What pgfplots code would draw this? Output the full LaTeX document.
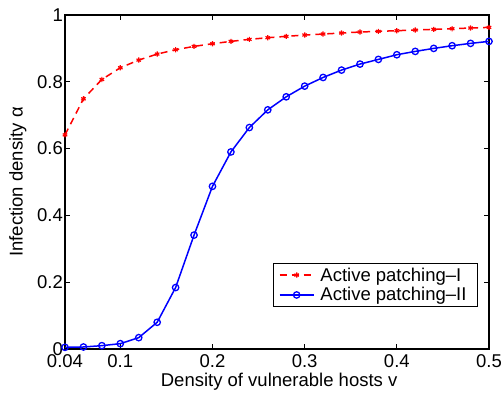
\documentclass[border=0pt]{standalone}
\usepackage{pgfplots}
\pgfplotsset{compat=1.18}
\usepackage{fontspec}
\setmainfont{Liberation Sans}
\begin{document}
\begin{tikzpicture}[font=\fontsize{18.5}{22}\selectfont]
\begin{axis}[
  name=ax,
  scale only axis,
  width=424pt, height=334pt,
  xmin=0.04, xmax=0.5, ymin=0, ymax=1,
  xtick={0.04,0.1,0.2,0.3,0.4,0.5},
  xticklabels={0.04,0.1,0.2,0.3,0.4,0.5},
  ytick={0,0.2,0.4,0.6,0.8,1},
  yticklabels={0,0.2,0.4,0.6,0.8,1},
  /pgf/number format/assume math mode=true,
  tick align=inside,
  major tick length=5pt,
  every tick/.style={black, line width=0.8pt},
  axis line style={line width=1.2pt},
  yticklabel style={inner sep=2pt},
  xticklabel style={inner sep=5pt},
  xlabel={Density of vulnerable hosts v},
  ylabel={Infection density α},
  xlabel style={at={(axis description cs:0.505,-0.099)}, anchor=center},
  ylabel style={at={(axis description cs:-0.111,0.5)}, anchor=center},
  clip=false,
  legend cell align=left,
  legend style={at={(axis cs:0.488,0.126)}, anchor=south east, draw=black, line width=1pt,
    inner xsep=5pt, inner ysep=1pt, row sep=-1pt,
    nodes={inner sep=3pt, inner xsep=6pt}},
  legend image code/.code={\draw[mark repeat=2,mark phase=2] plot coordinates {(0pt,0pt) (17pt,0pt) (34pt,0pt)};},
]
\addplot[red, line width=1.5pt, dash pattern=on 7pt off 5pt, mark=asterisk, mark size=2.6pt,
  mark options={solid, line width=1.2pt}] coordinates {
(0.04,0.641) (0.06,0.749) (0.08,0.807) (0.10,0.842) (0.12,0.865) (0.14,0.883)
(0.16,0.896) (0.18,0.906) (0.20,0.914) (0.22,0.921) (0.24,0.927) (0.26,0.932)
(0.28,0.936) (0.30,0.940) (0.32,0.943) (0.34,0.946) (0.36,0.949) (0.38,0.951)
(0.40,0.953) (0.42,0.955) (0.44,0.957) (0.46,0.959) (0.48,0.961) (0.50,0.963)
};
\addlegendentry{Active patching–I}
\addplot[blue, line width=1.5pt, mark=o, mark size=3.2pt, mark options={solid, line width=1.3pt}] coordinates {
(0.04,0.005) (0.06,0.006) (0.08,0.010) (0.10,0.016) (0.12,0.034) (0.14,0.080)
(0.16,0.184) (0.18,0.341) (0.20,0.487) (0.22,0.590) (0.24,0.663) (0.26,0.716)
(0.28,0.755) (0.30,0.787) (0.32,0.813) (0.34,0.835) (0.36,0.853) (0.38,0.867)
(0.40,0.881) (0.42,0.891) (0.44,0.900) (0.46,0.908) (0.48,0.915) (0.50,0.921)
};
\addlegendentry{Active patching–II}
\end{axis}
\pgfresetboundingbox
\path[use as bounding box] ([shift={(-65pt,-46pt)}]ax.south west) rectangle ([shift={(14pt,15pt)}]ax.north east);
\end{tikzpicture}
\end{document}
